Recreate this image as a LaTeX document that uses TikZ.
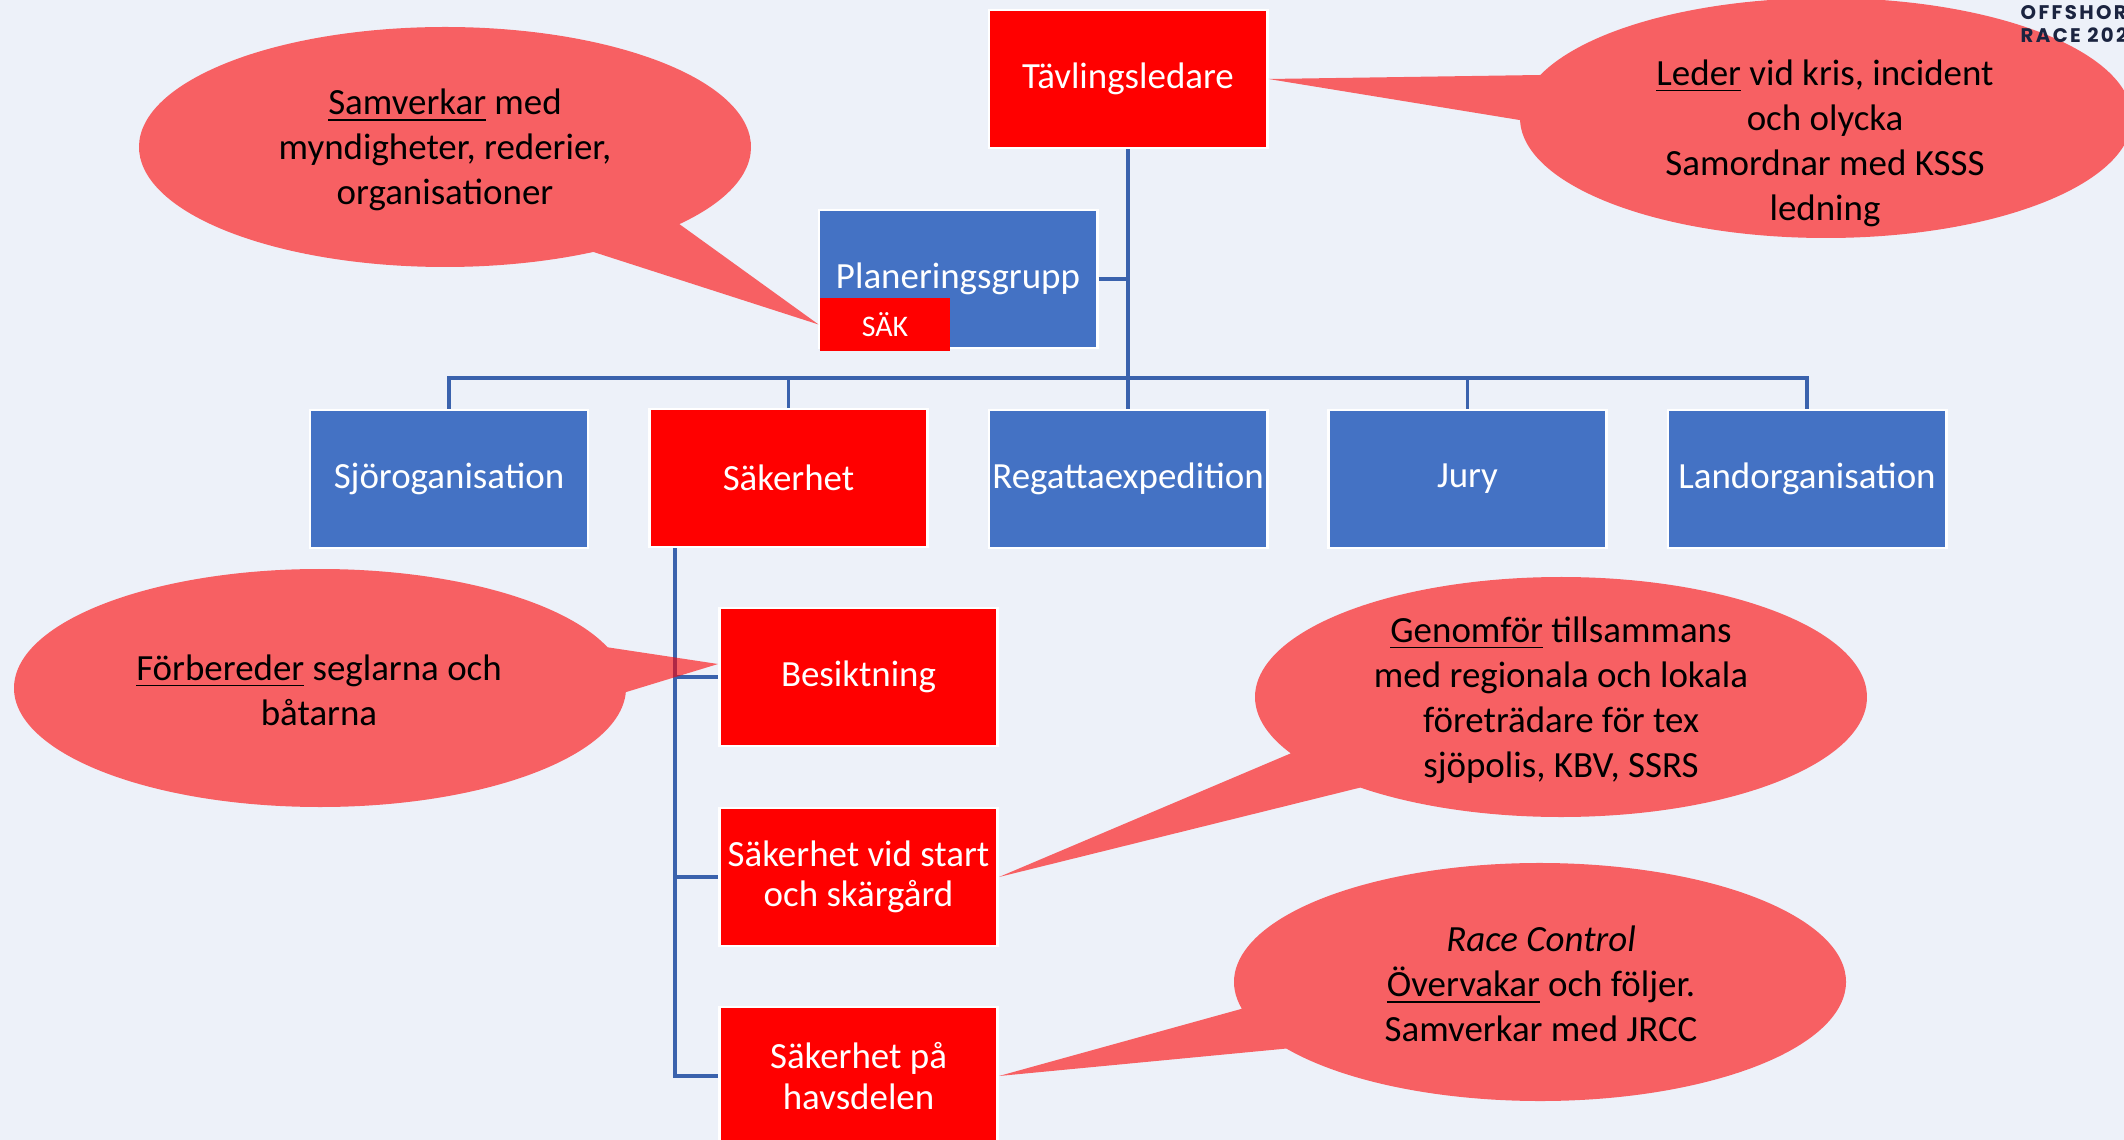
\documentclass[tikz,border=0pt]{standalone}
\usepackage{fontspec}
\setmainfont{Carlito}
\newfontfamily\logofont{Poppins}[LetterSpace=12]
\usetikzlibrary{calc}
\usetikzlibrary{positioning}

\definecolor{bgblue}{RGB}{237,241,249}
\definecolor{boxblue}{RGB}{68,114,196}
\definecolor{lineblue}{RGB}{58,98,173}
\definecolor{navy}{RGB}{27,36,64}

\begin{document}
\begin{tikzpicture}[x=0.01cm, y=-0.01cm]
\tikzstyle{unit} = [draw=white, line width=0.8pt, text=white, minimum width=2.78cm, minimum height=1.38cm, inner sep=0pt, align=center, font=\fontsize{10.5}{11.5}\selectfont]
\tikzstyle{bluebox} = [unit, fill=boxblue]
\tikzstyle{redbox} = [unit, fill=red]
\tikzstyle{conn} = [lineblue, line width=1pt]
\tikzstyle{callout} = [fill=red, fill opacity=0.6]
\tikzstyle{note} = [align=center, font=\fontsize{10.5}{12.8}\selectfont]

\fill[bgblue] (0,0) rectangle (2124,1140);
\useasboundingbox (0,0) rectangle (2124,1140);

% chart
\node[redbox] (tav) at (1128,79) {Tävlingsledare};
\node[bluebox] (plan) at (958,279) {Planeringsgrupp};
\node[redbox, draw=none, minimum width=1.3cm, minimum height=0.53cm, font=\fontsize{8.5}{10}\selectfont] (saek) at (885,324.5) {SÄK};

\node[bluebox] (sjo) at (449,479) {Sjöroganisation};
\node[redbox] (sak) at (788.5,478) {Säkerhet};
\node[bluebox] (rega) at (1128,479) {Regattaexpedition};
\node[bluebox] (jury) at (1467.5,479) {Jury};
\node[bluebox] (land) at (1807,479) {Landorganisation};

\node[redbox] (besikt) at (858.5,677) {Besiktning};
\node[redbox] (start) at (858.5,877) {Säkerhet vid start\\och skärgård};
\node[redbox] (havs) at (858.5,1076) {Säkerhet på\\havsdelen};

\coordinate (bus) at (1128,378);
\coordinate (spine) at ($(sak.south west)+(27,0)$);

\draw[conn] (tav) -- (rega);
\draw[conn] (plan.east) -- (plan.east -| tav.south);
\draw[conn] (sjo.north) |- (bus) -| (land.north);
\draw[conn] (sak.north) -- (sak.north |- bus);
\draw[conn] (jury.north) -- (jury.north |- bus);
\foreach \n in {besikt, start, havs}
  \draw[conn] (spine) |- (\n.west);

% callouts
\coordinate (e1) at (445,147);
\fill[callout] ($(e1)+(61:306 and 120)$) -- (saek.west) -- ($(e1)+(40:306 and 120)$)
  arc[start angle=40, end angle=-299, x radius=306, y radius=120] -- cycle;
\node[note] (notePlan) at (445,150) {\underline{Samverkar} med\\myndigheter, rederier,\\organisationer};

\coordinate (e2) at (1826,118);
\fill[callout] ($(e2)+(201:306 and 120)$) -- (tav.east) -- ($(e2)+(179:306 and 120)$)
  arc[start angle=179, end angle=-159, x radius=306, y radius=120] -- cycle;
\node[note] (noteTav) at (1825,143) {\underline{Leder} vid kris, incident\\och olycka\\Samordnar med KSSS\\ledning};

\coordinate (e3) at (320,688);
\fill[callout] ($(e3)+(-20:306 and 119)$) -- ($(besikt.west)+(0,-13)$) -- ($(e3)+(2:306 and 119)$)
  arc[start angle=2, end angle=340, x radius=306, y radius=119] -- cycle;
\node[note] (noteBesikt) at (319,690) {\underline{Förbereder} seglarna och\\båtarna};

\coordinate (e4) at (1561,697);
\fill[callout] ($(e4)+(152:306 and 120)$) -- (start.east) -- ($(e4)+(131:306 and 120)$)
  arc[start angle=131, end angle=-208, x radius=306, y radius=120] -- cycle;
\node[note] (noteStart) at (1561,700) {\underline{Genomför} tillsammans\\med regionala och lokala\\företrädare för tex\\sjöpolis, KBV, SSRS};

\coordinate (e5) at (1540,982);
\fill[callout] ($(e5)+(167:306 and 119)$) -- (havs.east) -- ($(e5)+(146:306 and 119)$)
  arc[start angle=146, end angle=-193, x radius=306, y radius=119] -- cycle;
\node[note] (noteHavs) at (1541,984) {\textit{Race Control}\\\underline{Övervakar} och följer.\\Samverkar med JRCC};

\node[anchor=north west, inner sep=0pt, text=navy, align=left, font=\logofont\bfseries\fontsize{5.6}{6.6}\selectfont] (logo) at (2020,5) {OFFSHOR\\RACE 202};

\end{tikzpicture}
\end{document}
